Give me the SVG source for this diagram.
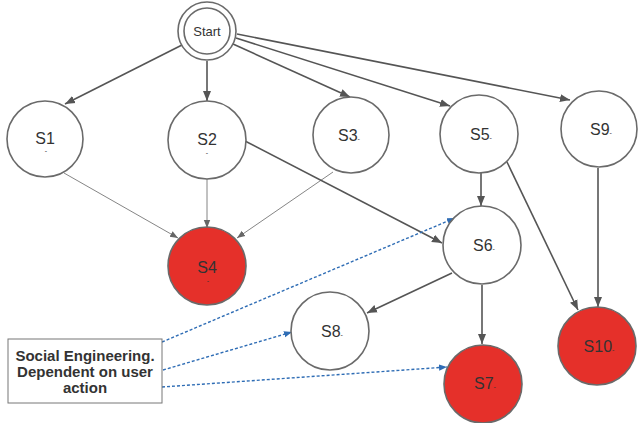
<svg xmlns="http://www.w3.org/2000/svg" width="641" height="423" viewBox="0 0 641 423">
<style>
.node{fill:#fff;stroke:#6a6a6a;stroke-width:1.6}
.red{fill:#e5302a;stroke:#6a6a6a;stroke-width:1.6}
.lbl{font-family:"Liberation Sans",Arial,sans-serif;font-size:16px;fill:#333;text-anchor:middle}
.dot{font-size:7px}
.e{fill:none;stroke:#555;stroke-width:1.6}
.t{fill:none;stroke:#777;stroke-width:0.9}
.d{fill:none;stroke:#2f6db5;stroke-width:1.4;stroke-dasharray:3 2}
.box{fill:#fff;stroke:#777;stroke-width:1}
.bt{font-family:"Liberation Sans",Arial,sans-serif;font-size:15px;font-weight:bold;fill:#333;text-anchor:middle}
</style>
<defs>
<marker id="a" markerUnits="userSpaceOnUse" markerWidth="10" markerHeight="10" viewBox="0 0 10 10" refX="10" refY="5" orient="auto"><path d="M0,1 L10,5 L0,9 Z" fill="#555"/></marker>
<marker id="at" markerUnits="userSpaceOnUse" markerWidth="8" markerHeight="8" viewBox="0 0 10 10" refX="10" refY="5" orient="auto"><path d="M0,1 L10,5 L0,9 Z" fill="#666"/></marker>
<marker id="ab" markerUnits="userSpaceOnUse" markerWidth="8" markerHeight="8" viewBox="0 0 10 10" refX="10" refY="5" orient="auto"><path d="M0,1 L10,5 L0,9 Z" fill="#2f6db5"/></marker>
</defs>
<rect width="641" height="423" fill="#fff"/>
<g id="connectors">
<line class="e" x1="182" y1="45" x2="65" y2="104" marker-end="url(#a)"/>
<line class="e" x1="207" y1="61" x2="207" y2="101" marker-end="url(#a)"/>
<line class="e" x1="233" y1="44" x2="350" y2="97" marker-end="url(#a)"/>
<line class="e" x1="236" y1="38" x2="450" y2="106" marker-end="url(#a)"/>
<line class="e" x1="237" y1="34" x2="570" y2="100" marker-end="url(#a)"/>
<line class="t" x1="64" y1="173" x2="178" y2="238" marker-end="url(#at)"/>
<line class="t" x1="207" y1="179" x2="207" y2="228" marker-end="url(#at)"/>
<line class="t" x1="333" y1="172" x2="237" y2="238" marker-end="url(#at)"/>
<line class="e" x1="245" y1="141" x2="442" y2="243" marker-end="url(#a)"/>
<line class="e" x1="481" y1="173" x2="481" y2="206" marker-end="url(#a)"/>
<line class="e" x1="507" y1="162" x2="578" y2="310" marker-end="url(#a)"/>
<line class="e" x1="598" y1="168" x2="598" y2="307" marker-end="url(#a)"/>
<line class="e" x1="452" y1="273" x2="367" y2="313" marker-end="url(#a)"/>
<line class="e" x1="482" y1="285" x2="482" y2="344" marker-end="url(#a)"/>
<line class="d" x1="162" y1="342" x2="455" y2="218" marker-end="url(#ab)"/>
<line class="d" x1="163" y1="370" x2="292" y2="332" marker-end="url(#ab)"/>
<line class="d" x1="162" y1="387" x2="447" y2="367" marker-end="url(#ab)"/>
</g>
<g id="start"><circle class="node" cx="207" cy="31" r="29"/><circle class="node" cx="207" cy="31" r="23"/><text class="lbl" x="207" y="36" style="font-size:13px">Start</text></g>
<g id="s1"><circle class="node" cx="45" cy="139" r="38"/><text class="lbl" x="45" y="144">S1</text><text class="lbl dot" x="46" y="153">-</text></g>
<g id="s2"><circle class="node" cx="207" cy="140" r="39"/><text class="lbl" x="207" y="145">S2</text><text class="lbl dot" x="207" y="155">-</text></g>
<g id="s3"><circle class="node" cx="351" cy="135" r="38"/><text class="lbl" x="349" y="141">S3<tspan class="dot">-</tspan></text></g>
<g id="s4"><circle class="red" cx="207" cy="266" r="39"/><text class="lbl" x="207" y="273">S4</text><text class="lbl dot" x="208" y="283">-</text></g>
<g id="s5"><circle class="node" cx="479" cy="134" r="39"/><text class="lbl" x="481" y="140">S5<tspan class="dot">-</tspan></text></g>
<g id="s9"><circle class="node" cx="599" cy="129" r="38"/><text class="lbl" x="601" y="135">S9<tspan class="dot">-</tspan></text></g>
<g id="s6"><circle class="node" cx="482" cy="245" r="39"/><text class="lbl" x="484" y="251">S6<tspan class="dot">-</tspan></text></g>
<g id="s8"><circle class="node" cx="330" cy="331" r="39"/><text class="lbl" x="332" y="337">S8<tspan class="dot">-</tspan></text></g>
<g id="s7"><circle class="red" cx="483" cy="384" r="39"/><text class="lbl" x="485" y="389">S7<tspan class="dot">-</tspan></text></g>
<g id="s10"><circle class="red" cx="597" cy="346" r="39"/><text class="lbl" x="599" y="352">S10<tspan class="dot">-</tspan></text></g>
<g id="note"><rect class="box" x="8" y="339" width="154" height="64"/>
<text class="bt" x="85" y="361">Social Engineering.</text>
<text class="bt" x="85" y="377">Dependent on user</text>
<text class="bt" x="85" y="393">action</text></g>
</svg>
